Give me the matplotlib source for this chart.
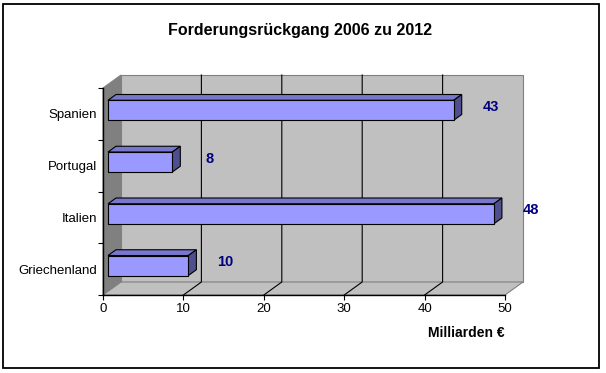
import matplotlib
matplotlib.use("Agg")
import matplotlib.pyplot as plt
from matplotlib.patches import Polygon, Rectangle
from matplotlib.lines import Line2D
from matplotlib.transforms import IdentityTransform

categories = ["Griechenland", "Italien", "Portugal", "Spanien"]
values = [10, 48, 8, 43]
x_ticks = [0, 10, 20, 30, 40, 50]
title = "Forderungsrückgang 2006 zu 2012"
x_label = "Milliarden €"

plt.rcParams['font.family'] = ['Liberation Sans', 'DejaVu Sans']

W, H, DPI = 606, 373, 100
fig = plt.figure(figsize=(W / DPI, H / DPI), dpi=DPI)
fig.patch.set_facecolor("white")

# front plane in pixels
L, R, B, T = 103, 505, 295, 88
ax = fig.add_axes([L / W, (H - B) / H, (R - L) / W, (B - T) / H])
ax.set_xlim(x_ticks[0], x_ticks[-1])
ax.set_ylim(0, len(categories))
ax.patch.set_visible(False)

DX, DY = 18, 13  # depth offset in pixels
ID = IdentityTransform()


def P(x, y, d):
    px, py = ax.transData.transform((x, y))
    return (px + d * DX, py + d * DY)


def poly(pts, fc, ec, lw=0.8, z=1):
    p = Polygon(pts, closed=True, transform=ID, clip_on=False,
                facecolor=fc, edgecolor=ec, linewidth=lw, zorder=z)
    ax.add_patch(p)


def line(pts, color="black", lw=0.8, z=1.5):
    xs = [p[0] for p in pts]
    ys = [p[1] for p in pts]
    ax.add_line(Line2D(xs, ys, transform=ID, color=color, lw=lw,
                       clip_on=False, zorder=z))


x0, x1 = x_ticks[0], x_ticks[-1]
n = len(categories)
# walls
poly([P(x0, 0, 1), P(x1, 0, 1), P(x1, n, 1), P(x0, n, 1)], "#C0C0C0", "#808080")
poly([P(x0, 0, 0), P(x0, 0, 1), P(x0, n, 1), P(x0, n, 0)], "#808080", "#808080")
poly([P(x0, 0, 0), P(x1, 0, 0), P(x1, 0, 1), P(x0, 0, 1)], "#C0C0C0", "#808080")

# gridlines
for xv in x_ticks[1:-1]:
    line([P(xv, 0, 0), P(xv, 0, 1), P(xv, n, 1)])

# bars
h = 0.193
d0, d1 = 5 / 18, 13 / 18
for i, v in enumerate(values):
    c = i + 0.5
    poly([P(x0, c + h, d0), P(v, c + h, d0), P(v, c + h, d1), P(x0, c + h, d1)],
         "#7777CC", "black", z=2)
    poly([P(v, c - h, d0), P(v, c - h, d1), P(v, c + h, d1), P(v, c + h, d0)],
         "#4F4F8F", "black", z=2)
    poly([P(x0, c - h, d0), P(v, c - h, d0), P(v, c + h, d0), P(x0, c + h, d0)],
         "#9999FF", "black", z=2.1)
    ax.annotate(str(v), xy=(v, c), xytext=(42, 7), textcoords="offset pixels",
                ha="center", va="center", color="#000080", fontsize=10.5,
                fontweight="bold", zorder=3)

# axes styling
for s in ["top", "right"]:
    ax.spines[s].set_visible(False)
for s in ["left", "bottom"]:
    ax.spines[s].set_color("black")
    ax.spines[s].set_linewidth(1.0)
    ax.spines[s].set_zorder(4)

ax.set_xticks(x_ticks)
ax.set_xticklabels([str(t) for t in x_ticks])
ax.tick_params(axis="x", direction="out", length=3.6, width=0.8, pad=2,
               labelsize=9.5, colors="black")
ax.set_yticks([i + 0.5 for i in range(n)])
ax.set_yticklabels(categories)
ax.set_yticks(list(range(n + 1)), minor=True)
ax.tick_params(axis="y", which="major", length=0, pad=4.3, labelsize=9.5)
ax.tick_params(axis="y", which="minor", direction="out", length=3.6, width=0.8)

fig.text(300.5 / W, 1 - 31 / H, title, ha="center", va="center",
         fontsize=11.5, fontweight="bold")
fig.text(466 / W, 1 - 333 / H, x_label, ha="center", va="center",
         fontsize=10, fontweight="bold")

fig.add_artist(Rectangle((3 / W, 1 - 368 / H), 596 / W, 364 / H,
                         transform=fig.transFigure, fill=False,
                         edgecolor="black", linewidth=1.3))

fig.savefig("out.png", dpi=DPI)
